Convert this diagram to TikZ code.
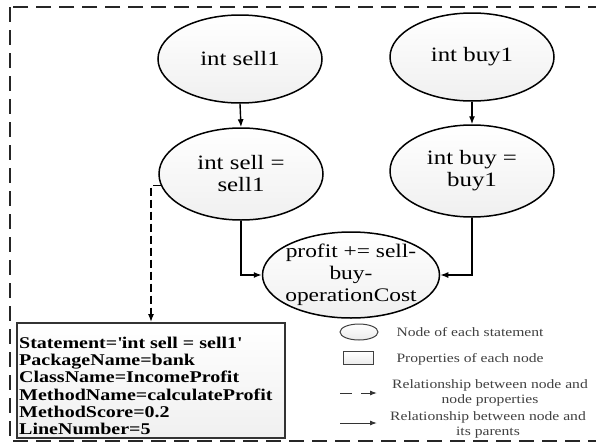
\documentclass[tikz,border=0pt]{standalone}
\usepackage{fontspec}
\setmainfont{Liberation Serif}[FakeStretch=1.22]
\usetikzlibrary{shapes.geometric,arrows.meta}
\tikzset{
  stmt/.style={ellipse, draw=black, line width=1.5pt, top color=white, bottom color=black!6,
    minimum width=164pt, minimum height=88pt, inner sep=0pt, align=center,
    font=\fontsize{20.4}{22}\selectfont},
  arr/.style={line width=1.4pt, -{Latex[length=8pt,width=6pt]}},
  dasharr/.style={arr, dash pattern=on 8pt off 4pt},
  props/.style={draw=black!80, line width=1.8pt, top color=white, bottom color=black!6,
    minimum width=268pt, minimum height=115pt, inner sep=0pt},
  legtext/.style={text=black!75, font=\fontsize{12.8}{15}\selectfont},
  legshape/.style={draw=black!75, line width=1pt, top color=white, bottom color=black!8, inner sep=0pt},
  legarr/.style={black!80, line width=1pt, -{Latex[length=7pt,width=5pt]}},
}
% text block that does not enlarge its ellipse
\newcommand\flattext[1]{\raisebox{-0.25em}[0pt][0pt]{\makebox[0pt]{\begin{tabular}{@{}c@{}}#1\end{tabular}}}}
\begin{document}
\begin{tikzpicture}[x=1pt,y=-1pt]
  \useasboundingbox (0,0) rectangle (596,447);
  % outer dashed frame (right edge lies past the page)
  \begin{scope}
    \clip (0,0) rectangle (596,447);
    \draw[line width=1.4pt, black!85, dash pattern=on 15pt off 8pt] (10,7) rectangle (620,441);
  \end{scope}

  % statement nodes
  \node[stmt] (s1) at (240,59) {int sell1};
  \node[stmt] (b1) at (472,57) {int buy1};
  \node[stmt, minimum height=92pt] (s) at (241,174) {int sell =\\sell1};
  \node[stmt, minimum height=92pt] (b) at (472,171) {int buy =\\buy1};
  \node[stmt, minimum width=177pt, minimum height=86pt, font=\fontsize{19.2}{22}\selectfont]
    (p) at (351,275)
    {\flattext{profit += sell-\\buy-\\operationCost}};

  % properties box
  \node[props] (box) at (151,380.5) {};
  \node[anchor=west, align=left, inner sep=0pt, font=\bfseries\fontsize{16.4}{17.2}\selectfont]
    (boxtext) at (19,386)
    {Statement=\textquotesingle int sell = sell1\textquotesingle\\PackageName=bank\\ClassName=IncomeProfit\\
     MethodName=calculateProfit\\MethodScore=0.2\\LineNumber=5};

  % parent relations
  \draw[arr] (s1.south) -- (s.north);
  \draw[arr] (b1.south) -- (b.north);
  \draw[arr] (s.south) |- (p.west);
  \draw[arr] (b.south) |- (p.east);
  % node to properties
  \draw[dasharr] (s.188) -| (box.north);

  % legend
  \node[legshape, ellipse, minimum width=38pt, minimum height=16pt] (lgell) at (359,332) {};
  \node[legtext, anchor=west] (lgelltext) at (393,332) {Node of each statement};
  \node[legshape, minimum width=30pt, minimum height=13pt] (lgrect) at (358,358) {};
  \node[legtext, anchor=west] (lgrecttext) at (393,359) {Properties of each node};
  \coordinate (da) at (340,393);
  \coordinate (db) at (377,393);
  \draw[legarr, dash pattern=on 12pt off 9pt] (da) -- (db);
  \node[legtext, align=center] (lgdashtext) at (490,393)
    {Relationship between node and\\node properties};
  \coordinate (sa) at (340,423);
  \coordinate (sb) at (377,423);
  \draw[legarr] (sa) -- (sb);
  \node[legtext, align=center] (lgsolidtext) at (488,425)
    {Relationship between node and\\its parents};
\end{tikzpicture}
\end{document}
